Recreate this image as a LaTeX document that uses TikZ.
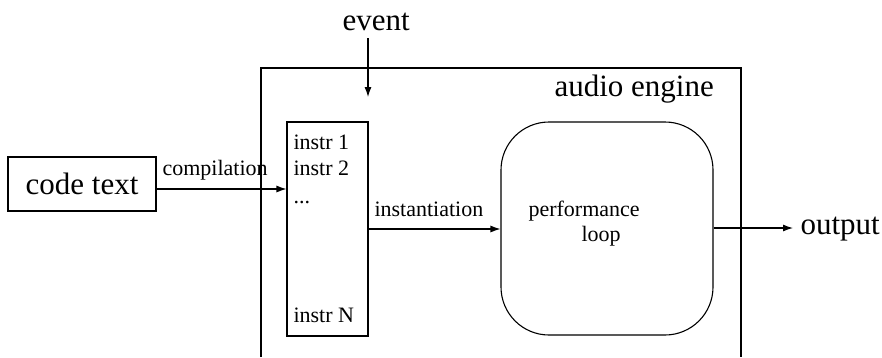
\documentclass[tikz,border=0pt]{standalone}
\usepackage{fontspec}
\setmainfont{Liberation Serif}
\usetikzlibrary{arrows.meta}
\begin{document}
\begin{tikzpicture}[x=1pt,y=-1pt,
  line width=1.1pt,
  big/.style={font=\fontsize{31}{36}\selectfont},
  small/.style={font=\fontsize{22}{26}\selectfont},
  box/.style={draw,inner sep=0pt},
  lbl/.style={inner sep=0pt,anchor=base west},
  flow/.style={-{Latex[length=10pt,width=7pt]}}]
\useasboundingbox (0,0) rectangle (882,357);

% audio engine frame, open at the bottom
\draw (261,357) coordinate (engbl) -- (261,68) -- (741,68) -- (741,357) coordinate (engbr);
\node[lbl,big] (engine) at (554,96) {audio engine};

% source code
\node[box,big,minimum width=148pt,minimum height=54pt] (code) at (82,184) {code text};

% instrument list
\node[box,minimum width=81pt,minimum height=214pt] (instr) at (327.5,229) {};
\node[lbl,small] (i1) at (293,149) {instr 1};
\node[lbl,small] (i2) at (293,175) {instr 2};
\node[lbl,small] (idots) at (293,203) {...};
\node[lbl,small] (iN) at (293,322) {instr N};

% performance loop
\node[box,rounded corners=48pt,minimum width=212pt,minimum height=213pt] (perf) at (607,228.5) {};
\node[lbl,small] (perf1) at (528,216) {performance};
\node[lbl,small] (perf2) at (581,241) {loop};

% event input
\node[lbl,big] (event) at (342,30) {event};
\coordinate (evtop) at (368,38);
\coordinate (evend) at (368,97);
\draw[flow] (evtop) -- (evend);

% compilation
\draw[flow] (code.east |- 0,189) -- (instr.west |- 0,189);
\node[lbl,small] (comp) at (162,175) {compilation};

% instantiation
\draw[flow] (instr.east) -- (perf.west |- instr.east);
\node[lbl,small] (inst) at (374,216) {instantiation};

% output
\node[lbl,big] (out) at (800,234) {output};
\coordinate (outend) at (793,228);
\draw[flow] (perf.east |- outend) -- (outend);
\end{tikzpicture}
\end{document}
